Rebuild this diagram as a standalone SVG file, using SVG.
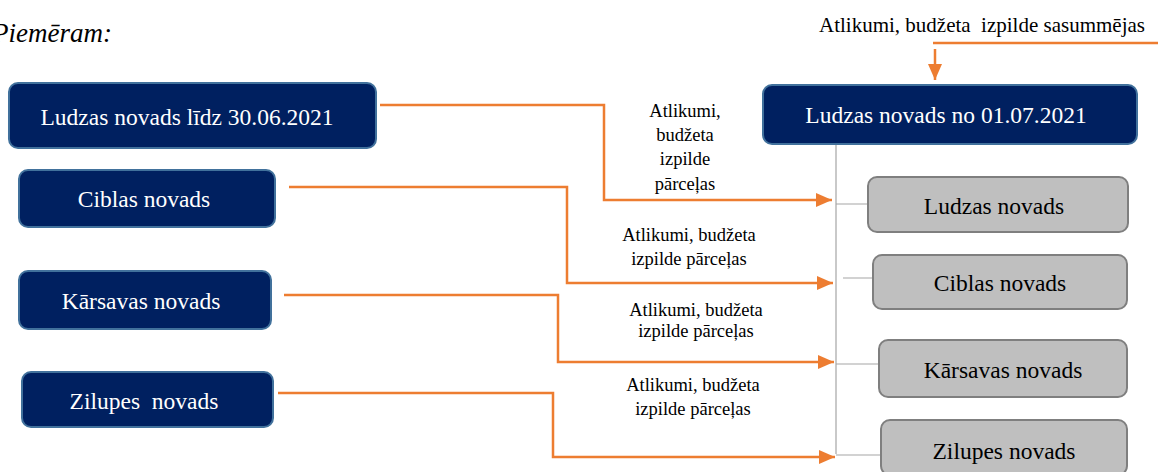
<svg xmlns="http://www.w3.org/2000/svg" width="1158" height="472" viewBox="0 0 1158 472">
<style>
text{font-family:"Liberation Serif","Times New Roman",Tinos,"DejaVu Serif",serif}
.dark{fill:#002060;stroke:#41719c;stroke-width:2}
.gray{fill:#bfbfbf;stroke:#7f7f7f;stroke-width:2}
.wt{font-size:23.5px;fill:#ffffff;text-anchor:middle}
.bt{font-size:23.5px;fill:#000000;text-anchor:middle}
.lbl{font-size:18.5px;fill:#000000;text-anchor:middle}
.top{font-size:21px;fill:#000000;text-anchor:middle}
.or{fill:none;stroke:#ed7d31;stroke-width:2.5}
.gl{fill:none;stroke:#a6a6a6;stroke-width:1.2}
</style>
<defs>
<marker id="ah" viewBox="0 0 16 14" refX="16" refY="7" markerWidth="16" markerHeight="14" orient="auto" markerUnits="userSpaceOnUse">
<path d="M0,0 L16,7 L0,14 z" fill="#ed7d31"/>
</marker>
</defs>
<text x="-8" y="42" font-style="italic" font-size="27" fill="#000">Piemēram:</text>
<g id="connectors">
<path class="gl" d="M836,145 V454 M836,204 H868 M843,278 H873 M836,364 H879 M836,455 H881"/>
<path class="or" d="M380,105 H604 V200 H832" marker-end="url(#ah)"/>
<path class="or" d="M289,187 H567 V283 H833" marker-end="url(#ah)"/>
<path class="or" d="M284,295 H558 V362 H834" marker-end="url(#ah)"/>
<path class="or" d="M278,393 H553 V457 H835" marker-end="url(#ah)"/>
<path class="or" d="M1158,43 H933"/>
<path class="or" d="M935,49 V80" marker-end="url(#ah)"/>
<text class="lbl" x="685" y="117">Atlikumi,</text>
<text class="lbl" x="685" y="141">budžeta</text>
<text class="lbl" x="685" y="165">izpilde</text>
<text class="lbl" x="685" y="190">pārceļas</text>
<text class="lbl" x="689" y="241">Atlikumi, budžeta</text>
<text class="lbl" x="689" y="265">izpilde pārceļas</text>
<text class="lbl" x="696" y="316">Atlikumi, budžeta</text>
<text class="lbl" x="696" y="337">izpilde pārceļas</text>
<text class="lbl" x="693" y="391">Atlikumi, budžeta</text>
<text class="lbl" x="693" y="415">izpilde pārceļas</text>
<text class="top" x="982" y="32" xml:space="preserve">Atlikumi, budžeta  izpilde sasummējas</text>
</g>
<g id="n-ludzas-lidz"><rect class="dark" x="9" y="83" width="367" height="65" rx="9"/><text class="wt" x="187" y="125">Ludzas novads līdz 30.06.2021</text></g>
<g id="n-ciblas"><rect class="dark" x="19" y="170" width="256" height="57" rx="9"/><text class="wt" x="144" y="207">Ciblas novads</text></g>
<g id="n-karsavas"><rect class="dark" x="19" y="271" width="252" height="58" rx="9"/><text class="wt" x="141" y="309">Kārsavas novads</text></g>
<g id="n-zilupes"><rect class="dark" x="22" y="372" width="251" height="55" rx="9"/><text class="wt" x="144" y="409" xml:space="preserve">Zilupes  novads</text></g>
<g id="n-ludzas-no"><rect class="dark" x="763" y="85" width="374" height="59" rx="9"/><text class="wt" x="946" y="123">Ludzas novads no 01.07.2021</text></g>
<g id="n-g-ludzas"><rect class="gray" x="868" y="177" width="260" height="55" rx="9"/><text class="bt" x="994" y="214">Ludzas novads</text></g>
<g id="n-g-ciblas"><rect class="gray" x="873" y="255" width="254" height="54" rx="9"/><text class="bt" x="1000" y="291">Ciblas novads</text></g>
<g id="n-g-karsavas"><rect class="gray" x="879" y="340" width="248" height="57" rx="9"/><text class="bt" x="1003" y="378">Kārsavas novads</text></g>
<g id="n-g-zilupes"><rect class="gray" x="881" y="420" width="246" height="55" rx="9"/><text class="bt" x="1004" y="459">Zilupes novads</text></g>
</svg>
